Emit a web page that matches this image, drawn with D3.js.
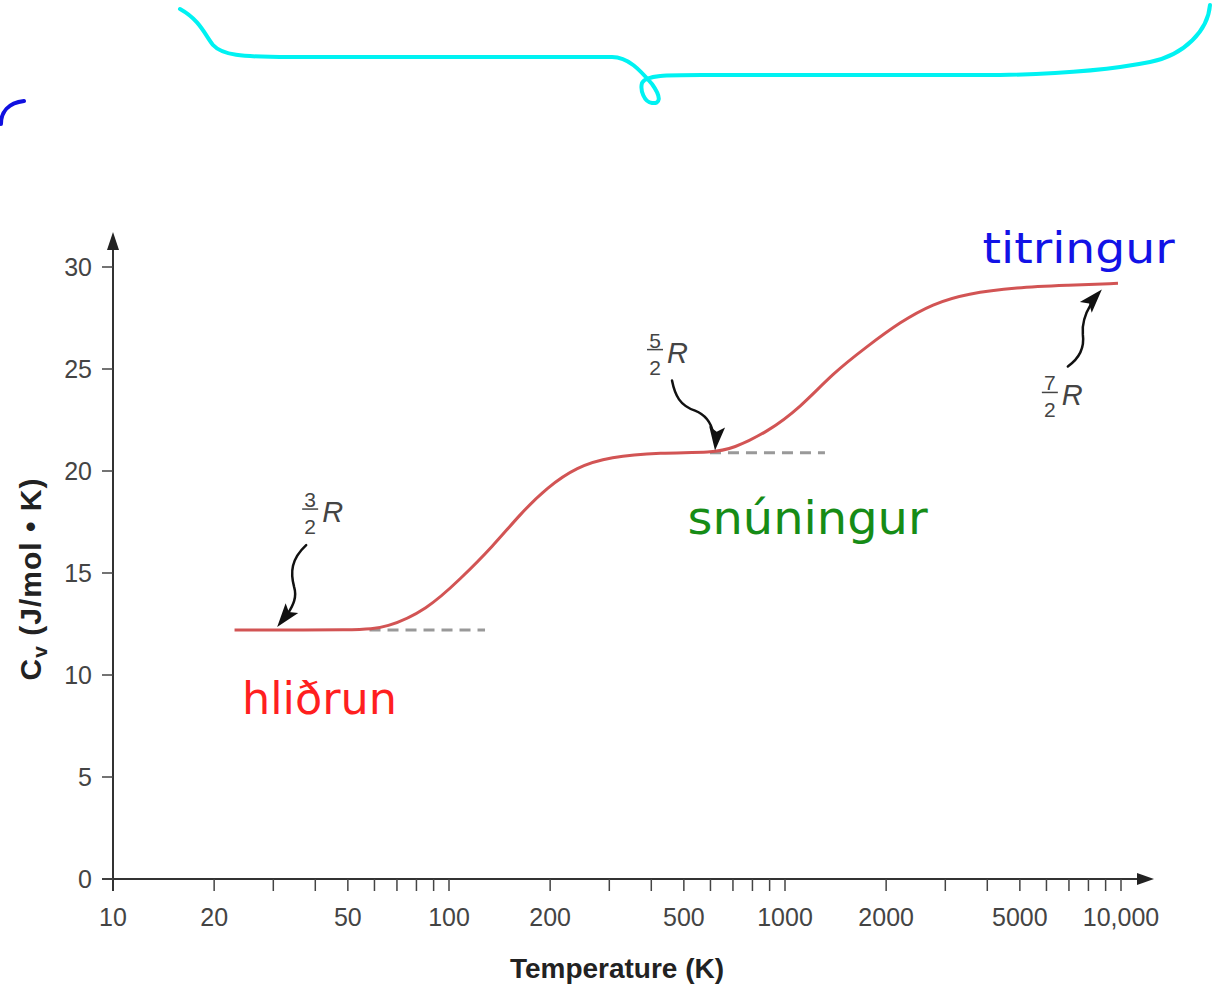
<!DOCTYPE html>
<html lang="is">
<head>
  <meta charset="UTF-8">
  <title>Cv vs Temperature</title>
  <script src="https://d3js.org/d3.v7.min.js"></script>
  <style>
    body { margin: 0; background: #fff; }
    .tick-label { font-family: "Liberation Sans", Arial, sans-serif; font-size: 25px; fill: #444; }
    .axis-title { font-family: "Liberation Sans", Arial, sans-serif; font-size: 28px; font-weight: bold; fill: #222; }
    .frac { font-family: "Liberation Sans", Arial, sans-serif; fill: #444; }
    .hand { font-family: "DejaVu Sans", sans-serif; }
  </style>
</head>
<body>
  <svg id="chart" width="1213" height="987"></svg>
  <script>
    // curve (temperature K, Cv J/mol K)
    const temps = [23, 54, 65, 86, 108, 135, 163, 196, 240, 301, 425, 611, 700, 884, 1109, 1390, 1754, 2199, 2756, 3482, 4900, 6902, 9795];
    const cvVals = [12.2, 12.2, 12.3, 13.2, 14.7, 16.3, 17.9, 19.2, 20.2, 20.7, 20.9, 20.9, 21.1, 21.9, 23.1, 24.8, 26.1, 27.3, 28.2, 28.7, 29.0, 29.1, 29.2];

    const xTickVals = [20, 30, 40, 50, 60, 70, 80, 90, 100, 200, 300, 400, 500, 600, 700, 800, 900, 1000, 2000, 3000, 4000, 5000, 6000, 7000, 8000, 9000, 10000];
    const xLabelVals = [10, 20, 50, 100, 200, 500, 1000, 2000, 5000, 10000];
    const xLabels = ["10", "20", "50", "100", "200", "500", "1000", "2000", "5000", "10,000"];
    const yTickVals = [0, 5, 10, 15, 20, 25, 30];

    // dashed reference lines: [from T, to T, Cv]
    const plateaus = [[58, 128, 12.2], [598, 1315, 20.9]];

    // fraction labels and where their arrows point
    const fracNum = ["3", "5", "7"];
    const fracT = [30.8, 619, 8770];
    const fracCv = [12.35, 21.0, 28.9];

    // handwritten words
    const words = ["hliðrun", "snúningur", "titringur"];
    const wordT = [24.2, 513, 3873];
    const wordCv = [8.1, 16.9, 30.2];
    const wordColors = ["#ff1f1f", "#168c16", "#1212e6"];

    const svg = d3.select("#chart");
    const x = d3.scaleLog().domain([10, 10000]).range([113, 1121]);
    const y = d3.scaleLinear().domain([0, 30]).range([879, 267]);

    // axes lines
    svg.append("line")
      .attr("x1", 102).attr("x2", 1140)
      .attr("y1", y(0)).attr("y2", y(0))
      .attr("stroke", "#333").attr("stroke-width", 2);
    svg.append("path")
      .attr("d", `M1154,${y(0)} L1137,${y(0) - 6} L1137,${y(0) + 6} z`)
      .attr("fill", "#222");
    svg.append("line")
      .attr("x1", x(10)).attr("x2", x(10))
      .attr("y1", y(0) + 12).attr("y2", 248)
      .attr("stroke", "#333").attr("stroke-width", 2);
    svg.append("path")
      .attr("d", `M${x(10)},232 L${x(10) - 6},250 L${x(10) + 6},250 z`)
      .attr("fill", "#222");

    // x ticks
    svg.selectAll(".xt").data(xTickVals).enter().append("line")
      .attr("x1", d => x(d)).attr("x2", d => x(d))
      .attr("y1", y(0)).attr("y2", y(0) + 12)
      .attr("stroke", "#444").attr("stroke-width", 1.5);
    svg.selectAll(".xl").data(xLabelVals).enter().append("text")
      .attr("class", "tick-label")
      .attr("x", d => x(d)).attr("y", y(0) + 47)
      .attr("text-anchor", "middle")
      .text((d, i) => xLabels[i]);

    // y ticks
    svg.selectAll(".yt").data(yTickVals).enter().append("line")
      .attr("x1", x(10) - 11).attr("x2", x(10))
      .attr("y1", d => y(d)).attr("y2", d => y(d))
      .attr("stroke", "#444").attr("stroke-width", 1.5);
    svg.selectAll(".yl").data(yTickVals).enter().append("text")
      .attr("class", "tick-label")
      .attr("x", 92).attr("y", d => y(d) + 9)
      .attr("text-anchor", "end")
      .text(d => d);

    // axis titles
    svg.append("text")
      .attr("class", "axis-title")
      .attr("x", 617).attr("y", 978)
      .attr("text-anchor", "middle")
      .text("Temperature (K)");
    const yt = svg.append("text")
      .attr("class", "axis-title")
      .attr("transform", "translate(41,579) rotate(-90)")
      .attr("text-anchor", "middle")
      .style("font-size", "30px")
      .style("letter-spacing", "1px");
    yt.append("tspan").text("C");
    yt.append("tspan").attr("dy", 6).style("font-size", "21px").text("v");
    yt.append("tspan").attr("dy", -6).text(" (J/mol • K)");

    // dashed lines
    svg.selectAll(".dash").data(plateaus).enter().append("line")
      .attr("x1", d => x(d[0])).attr("x2", d => x(d[1]))
      .attr("y1", d => y(d[2])).attr("y2", d => y(d[2]))
      .attr("stroke", "#999").attr("stroke-width", 3)
      .attr("stroke-dasharray", "11,7");

    // curve
    const line = d3.line()
      .x((d, i) => x(temps[i]))
      .y(d => y(d))
      .curve(d3.curveBasis);
    svg.append("path")
      .attr("d", line(cvVals))
      .attr("fill", "none")
      .attr("stroke", "#d25454")
      .attr("stroke-width", 3);

    // arrows (offsets from tip), heads and fraction labels
    const arrowShapes = [
      "M29,-82 C14,-68 13,-55 17,-40 C20,-30 16,-22 11,-14",
      "M-43,-70 C-40,-55 -35,-45 -20,-40 C-10,-36 -4,-28 -2,-18",
      "M-34,77 C-24,70 -17,60 -19,45 C-20,35 -17,25 -11,15"
    ];
    const headAngles = [128, 95, -48];
    const labelOffsets = [[33, -118], [-60, -101], [-52, 103]];
    fracNum.forEach((n, i) => {
      const tx = x(fracT[i]), ty = y(fracCv[i]);
      svg.append("path")
        .attr("transform", `translate(${tx},${ty})`)
        .attr("d", arrowShapes[i])
        .attr("fill", "none")
        .attr("stroke", "#111")
        .attr("stroke-width", 2.5)
        .attr("stroke-linecap", "round");
      svg.append("path")
        .attr("transform", `translate(${tx},${ty}) rotate(${headAngles[i]})`)
        .attr("d", "M0,0 L-24,-8 L-19,0 L-24,8 z")
        .attr("fill", "#111");
      const cx = tx + labelOffsets[i][0], by = ty + labelOffsets[i][1];
      const g = svg.append("g").attr("class", "frac");
      g.append("text").attr("x", cx).attr("y", by - 2)
        .attr("text-anchor", "middle").attr("font-size", 21).text(n);
      g.append("line").attr("x1", cx - 8).attr("x2", cx + 8)
        .attr("y1", by).attr("y2", by)
        .attr("stroke", "#444").attr("stroke-width", 1.5);
      g.append("text").attr("x", cx).attr("y", by + 25)
        .attr("text-anchor", "middle").attr("font-size", 21).text("2");
      g.append("text").attr("x", cx + 12).attr("y", by + 13)
        .attr("font-size", 29).attr("font-style", "italic").text("R");
    });

    // handwritten words
    svg.selectAll(".hand").data(words).enter().append("text")
      .attr("class", "hand")
      .attr("x", (d, i) => x(wordT[i]))
      .attr("y", (d, i) => y(wordCv[i]))
      .attr("font-size", (d, i) => [44, 46, 42][i])
      .attr("fill", (d, i) => wordColors[i])
      .attr("textLength", (d, i) => [155, 240, 192][i])
      .attr("lengthAdjust", "spacingAndGlyphs")
      .text(d => d);

    // cyan brace and blue stroke at the top
    svg.append("path")
      .attr("d", "M180,9 C200,20 205,35 213,45 C222,55 240,57 290,57 L612,57 C628,57 640,70 652,84 C662,98 660,104 652,103 C644,102 640,90 642,83 C646,74 670,75 720,75 L1000,75 C1060,74 1110,70 1150,62 C1185,55 1208,30 1210,5")
      .attr("fill", "none")
      .attr("stroke", "#00f2f2")
      .attr("stroke-width", 4)
      .attr("stroke-linecap", "round");
    svg.append("path")
      .attr("d", "M1,124 C1,112 8,103 24,101")
      .attr("fill", "none")
      .attr("stroke", "#1010e0")
      .attr("stroke-width", 4)
      .attr("stroke-linecap", "round");
  </script>
</body>
</html>
